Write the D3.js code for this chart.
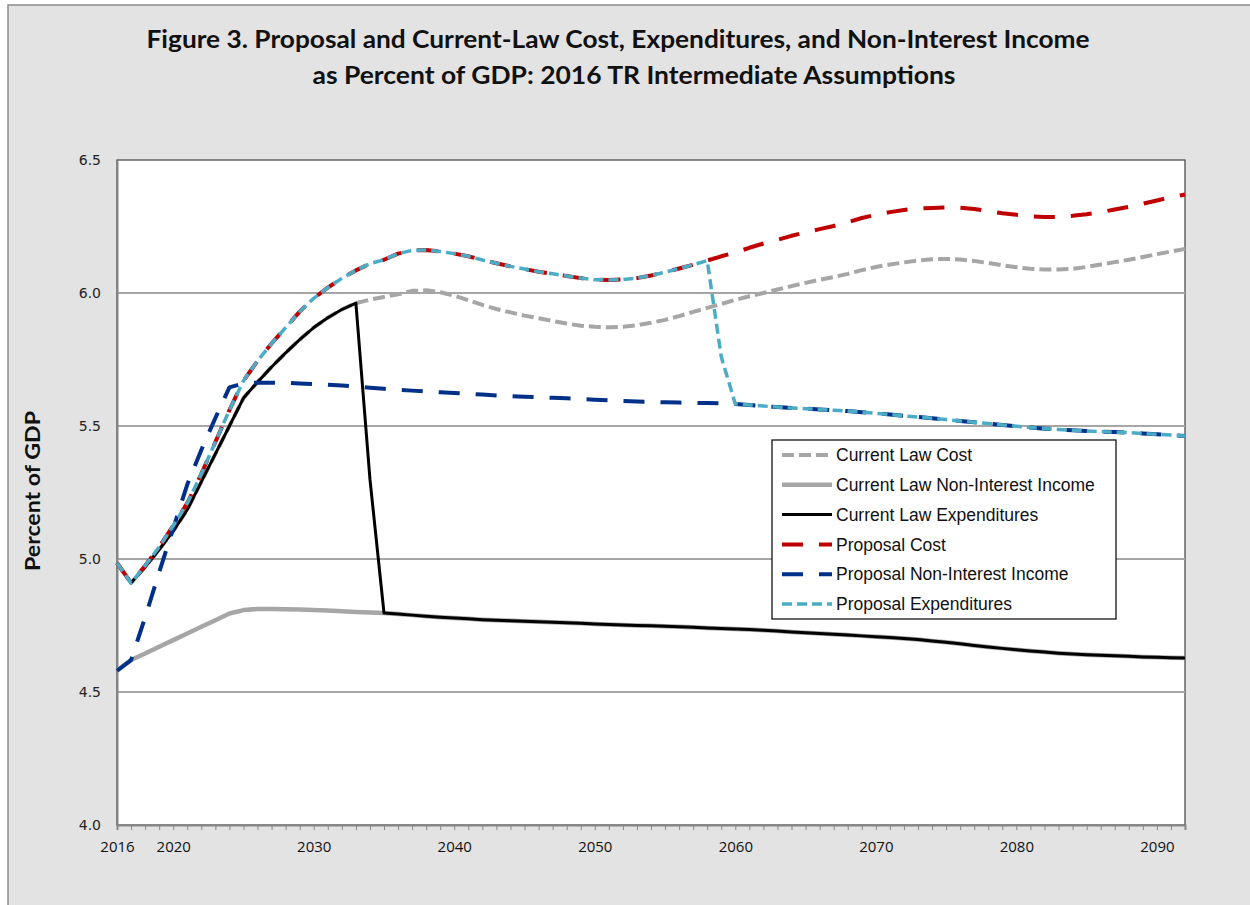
<!DOCTYPE html>
<html>
<head>
<meta charset="utf-8">
<script src="https://cdn.jsdelivr.net/npm/d3@7"></script>
<style>
  body { margin: 0; background: #fff; }
  svg { display: block; }
</style>
</head>
<body>
<div id="chart"></div>
<script>
const width = 1250,
  height = 905;

// years 2016..2092
const years = d3.range(2016, 2093);
const labelYears = [2016, 2020, 2030, 2040, 2050, 2060, 2070, 2080, 2090];
const yTicks = [4.0, 4.5, 5.0, 5.5, 6.0, 6.5];

const clExpenditures = [
  4.985, 4.91, 4.97, 5.035, 5.105, 5.185, 5.29, 5.395, 5.5, 5.605,
  5.665, 5.722, 5.775, 5.825, 5.87, 5.907, 5.938, 5.962, 5.3, 4.797,
  4.793, 4.789, 4.785, 4.781, 4.778, 4.775, 4.772, 4.77, 4.768, 4.766,
  4.764, 4.762, 4.76, 4.758, 4.756, 4.754, 4.752, 4.75, 4.749, 4.747,
  4.745, 4.743, 4.741, 4.739, 4.737, 4.735, 4.732, 4.729, 4.726, 4.723,
  4.72, 4.717, 4.714, 4.711, 4.708, 4.705, 4.701, 4.697, 4.692, 4.687,
  4.681, 4.675, 4.669, 4.664, 4.659, 4.654, 4.65, 4.646, 4.643, 4.64,
  4.638, 4.636, 4.634, 4.632, 4.631, 4.629, 4.628
];

// current law cost: same as expenditures through 2033, then its own path
const clCost = clExpenditures.slice(0, 18).concat([
  5.975, 5.985, 5.995, 6.008, 6.01, 6.003, 5.99, 5.973, 5.955, 5.94,
  5.927, 5.915, 5.905, 5.895, 5.885, 5.877, 5.873, 5.871, 5.873, 5.879,
  5.888, 5.899, 5.913, 5.929, 5.944, 5.959, 5.974, 5.988, 6.0, 6.013,
  6.026, 6.038, 6.05, 6.06, 6.072, 6.086, 6.098, 6.107, 6.115, 6.122,
  6.127, 6.128, 6.126, 6.12, 6.113, 6.104, 6.097, 6.091, 6.088, 6.088,
  6.091, 6.098, 6.107, 6.116, 6.125, 6.135, 6.146, 6.156, 6.166
]);

// current law non-interest income: own path to 2035, then under expenditures
const clIncome = [
  4.58, 4.62, 4.645, 4.67, 4.695, 4.72, 4.745, 4.77, 4.795, 4.808,
  4.812, 4.812, 4.811, 4.81, 4.808, 4.806, 4.804, 4.801, 4.799
].concat(clExpenditures.slice(19));

const propCost = [
  4.985, 4.91, 4.975, 5.045, 5.125, 5.21, 5.32, 5.44, 5.56, 5.67,
  5.745, 5.81, 5.87, 5.93, 5.98, 6.02, 6.055, 6.085, 6.11, 6.125,
  6.148, 6.16, 6.162, 6.156, 6.148, 6.138, 6.124, 6.112, 6.1, 6.09,
  6.08, 6.072, 6.064, 6.056, 6.05, 6.049, 6.051, 6.056, 6.066, 6.078,
  6.092, 6.106, 6.122, 6.138, 6.152, 6.17, 6.186, 6.2, 6.215, 6.228,
  6.24, 6.252, 6.266, 6.282, 6.294, 6.304, 6.312, 6.318, 6.32, 6.322,
  6.321, 6.316, 6.308, 6.3, 6.294, 6.288, 6.286, 6.286, 6.29, 6.296,
  6.304, 6.314, 6.324, 6.336, 6.348, 6.36, 6.37
];

const propIncome = [
  4.58, 4.62, 4.78, 4.95, 5.115, 5.28, 5.41, 5.53, 5.645, 5.66,
  5.663, 5.663, 5.662, 5.66, 5.658, 5.655, 5.652, 5.648, 5.644, 5.64,
  5.636, 5.633, 5.63, 5.627, 5.624, 5.621, 5.618, 5.615, 5.612, 5.61,
  5.608, 5.606, 5.604, 5.601, 5.599, 5.597, 5.594, 5.592, 5.591, 5.589,
  5.588, 5.587, 5.586, 5.585, 5.583, 5.579, 5.575, 5.571, 5.568, 5.565,
  5.562, 5.559, 5.556, 5.552, 5.548, 5.543, 5.538, 5.534, 5.529, 5.524,
  5.519, 5.514, 5.509, 5.504, 5.499, 5.494, 5.49, 5.487, 5.484, 5.481,
  5.479, 5.477, 5.475, 5.472, 5.469, 5.466, 5.462
];

// proposal expenditures: cost through 2058, drop in 2059, income from 2060
const propExpenditures = propCost.slice(0, 43).concat([5.76], propIncome.slice(44));

const series = [
  { name: "Current Law Cost", values: clCost, color: "#a6a6a6", w: 4, dash: "12,5" },
  { name: "Current Law Non-Interest Income", values: clIncome, color: "#a6a6a6", w: 4.5, dash: null },
  { name: "Current Law Expenditures", values: clExpenditures, color: "#000000", w: 3, dash: null },
  { name: "Proposal Cost", values: propCost, color: "#c00000", w: 4, dash: "21,16" },
  { name: "Proposal Non-Interest Income", values: propIncome, color: "#003087", w: 4, dash: "21,16" },
  { name: "Proposal Expenditures", values: propExpenditures, color: "#4bacc6", w: 3.5, dash: "10,5" },
];

const margin = { left: 117, right: 1185, top: 160, bottom: 825 };

const x = d3.scaleLinear().domain([2016, 2092]).range([margin.left, margin.right]);
const y = d3.scaleLinear().domain([4.0, 6.5]).range([margin.bottom, margin.top]);

const svg = d3
  .select("#chart")
  .append("svg")
  .attr("width", width)
  .attr("height", height);

// chart area
svg.append("rect")
  .attr("x", 8).attr("y", 5)
  .attr("width", 1260).attr("height", 920)
  .attr("fill", "#e3e3e3")
  .attr("stroke", "#8c8c8c")
  .attr("stroke-width", 1.5);

// plot area
svg.append("rect")
  .attr("x", margin.left).attr("y", margin.top)
  .attr("width", margin.right - margin.left)
  .attr("height", margin.bottom - margin.top)
  .attr("fill", "#ffffff")
  .attr("stroke", "#404040")
  .attr("stroke-width", 1.2);

// gridlines
svg.append("g")
  .selectAll("line")
  .data(yTicks.filter(d => d > 4 && d < 6.5))
  .enter()
  .append("line")
  .attr("x1", margin.left).attr("x2", margin.right)
  .attr("y1", d => y(d)).attr("y2", d => y(d))
  .attr("stroke", "#a6a6a6")
  .attr("stroke-width", 2);

// y axis
const yAxis = svg.append("g")
  .attr("transform", `translate(${margin.left},0)`)
  .call(d3.axisLeft(y).tickValues(yTicks).tickFormat(d3.format(".1f")).tickSize(0).tickPadding(16));
yAxis.select(".domain").attr("stroke", "#868686").attr("stroke-width", 2);
yAxis.selectAll("text")
  .attr("font-family", "DejaVu Sans")
  .attr("font-size", 14)
  .attr("fill", "#222");

// x axis
const xAxis = svg.append("g")
  .attr("transform", `translate(0,${margin.bottom})`)
  .call(d3.axisBottom(x)
    .tickValues(years)
    .tickSize(5)
    .tickPadding(11)
    .tickFormat(d => (labelYears.includes(d) ? String(d) : "")));
xAxis.select(".domain").attr("stroke", "#868686").attr("stroke-width", 2);
xAxis.selectAll(".tick line").attr("stroke", "#868686").attr("stroke-width", 1);
xAxis.selectAll("text")
  .attr("font-family", "Open Sans")
  .attr("font-size", 15)
  .attr("fill", "#111");

// lines
const line = d3.line()
  .x((d, i) => x(years[i]))
  .y(d => y(d));

svg.append("g")
  .selectAll("path")
  .data(series)
  .enter()
  .append("path")
  .attr("d", d => line(d.values))
  .attr("fill", "none")
  .attr("stroke", d => d.color)
  .attr("stroke-width", d => d.w)
  .attr("stroke-dasharray", d => d.dash)
  .attr("stroke-linejoin", "round");

// titles
const title = svg.append("g")
  .attr("font-family", "Lato")
  .attr("font-weight", "bold")
  .attr("fill", "#111")
  .attr("text-anchor", "middle");
title.append("text")
  .attr("x", 618).attr("y", 48)
  .attr("font-size", 24)
  .attr("textLength", 943)
  .attr("lengthAdjust", "spacingAndGlyphs")
  .text("Figure 3. Proposal and Current-Law Cost, Expenditures, and Non-Interest Income");
title.append("text")
  .attr("x", 634).attr("y", 84)
  .attr("font-size", 24)
  .attr("textLength", 643)
  .attr("lengthAdjust", "spacingAndGlyphs")
  .text("as Percent of GDP: 2016 TR Intermediate Assumptions");

svg.append("text")
  .attr("transform", "translate(40,491) rotate(-90)")
  .attr("text-anchor", "middle")
  .attr("font-family", "Lato")
  .attr("font-weight", "bold")
  .attr("font-size", 21)
  .attr("textLength", 160)
  .attr("lengthAdjust", "spacingAndGlyphs")
  .attr("fill", "#111")
  .text("Percent of GDP");

// legend
const legend = svg.append("g").attr("transform", "translate(772,440)");
legend.append("rect")
  .attr("width", 344).attr("height", 179)
  .attr("fill", "#fff")
  .attr("stroke", "#000")
  .attr("stroke-width", 1.2);

const item = legend.selectAll(".item")
  .data(series)
  .enter()
  .append("g")
  .attr("transform", (d, i) => `translate(0,${15 + i * 29.8})`);
item.append("line")
  .attr("x1", 10).attr("x2", 60)
  .attr("stroke", d => d.color)
  .attr("stroke-width", d => d.w)
  .attr("stroke-dasharray", d => d.dash);
item.append("text")
  .attr("x", 64)
  .attr("dy", "0.35em")
  .attr("font-family", "Liberation Sans")
  .attr("font-size", 17.5)
  .attr("fill", "#111")
  .text(d => d.name);
</script>
</body>
</html>
